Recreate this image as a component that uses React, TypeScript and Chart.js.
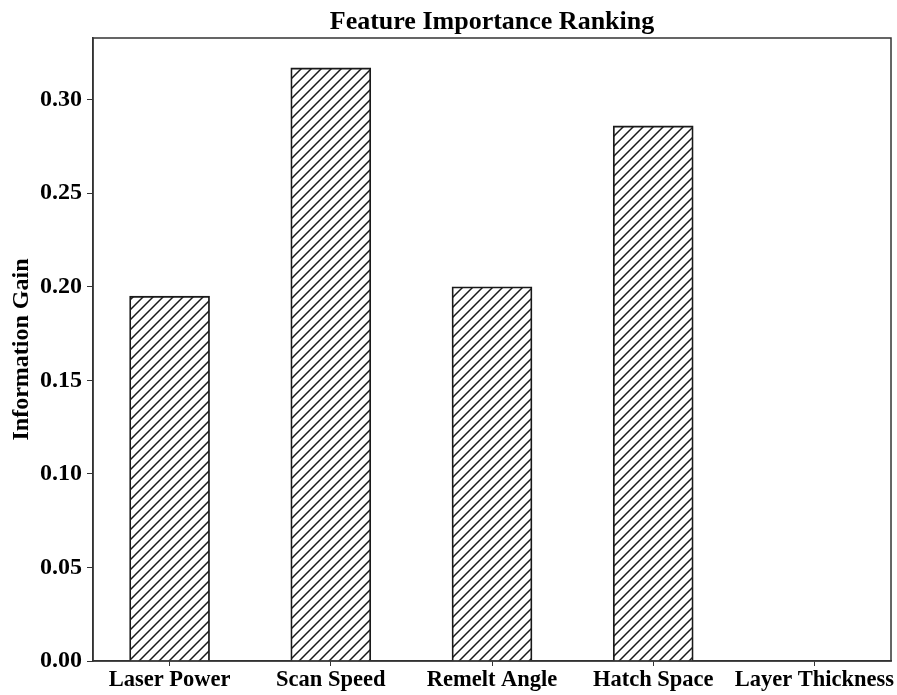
import React, { useEffect, useRef } from "react";
import { Chart, registerables } from "chart.js";

Chart.register(...registerables);

const categories = ["Laser Power", "Scan Speed", "Remelt Angle", "Hatch Space", "Layer Thickness"];
const gains = [0.195, 0.317, 0.2, 0.286, 0.0];
const yTicks = [0, 0.05, 0.1, 0.15, 0.2, 0.25, 0.3];
const titleText = "Feature Importance Ranking";
const yTitle = "Information Gain";

const FONT = "'Liberation Serif', 'Times New Roman', serif";

function makeHatch(): CanvasPattern | string {
  const c = document.createElement("canvas");
  const s = 10;
  c.width = s;
  c.height = s;
  const ctx = c.getContext("2d");
  if (!ctx) return "#fff";
  ctx.fillStyle = "#fff";
  ctx.fillRect(0, 0, s, s);
  ctx.strokeStyle = "#1a1a1a";
  ctx.lineWidth = 1.5;
  ctx.beginPath();
  ctx.moveTo(0, s);
  ctx.lineTo(s, 0);
  ctx.moveTo(-s / 2, s / 2);
  ctx.lineTo(s / 2, -s / 2);
  ctx.moveTo(s / 2, s * 1.5);
  ctx.lineTo(s * 1.5, s / 2);
  ctx.stroke();
  const p = ctx.createPattern(c, "repeat");
  return p || "#fff";
}

export default function App() {
  const ref = useRef<HTMLCanvasElement>(null);
  useEffect(() => {
    if (!ref.current) return;
    const hatch = makeHatch();
    const framePlugin = {
      id: "frame",
      afterDraw(chart: any) {
        const { ctx, chartArea } = chart;
        ctx.save();
        ctx.strokeStyle = "#333";
        ctx.lineWidth = 1.5;
        ctx.strokeRect(chartArea.left, chartArea.top, chartArea.right - chartArea.left, chartArea.bottom - chartArea.top);
        ctx.fillStyle = "#000";
        ctx.font = `bold 26px ${FONT}`;
        ctx.textAlign = "center";
        ctx.textBaseline = "middle";
        ctx.fillText(titleText, (chartArea.left + chartArea.right) / 2, 22);
        ctx.font = `bold 24px ${FONT}`;
        ctx.translate(22, (chartArea.top + chartArea.bottom) / 2);
        ctx.rotate(-Math.PI / 2);
        ctx.fillText(yTitle, 0, 0);
        ctx.restore();
      },
    };
    const chart = new Chart(ref.current, {
      type: "bar",
      data: {
        datasets: [
          {
            data: gains.map((v, i) => ({ x: i, y: v })),
            backgroundColor: hatch as any,
            borderColor: "#1a1a1a",
            borderWidth: 1.8,
            barThickness: 80,
          },
        ],
      },
      options: {
        animation: false,
        responsive: false,
        layout: { padding: { top: 38, right: 6, left: 0, bottom: 0 } },
        plugins: { legend: { display: false }, tooltip: { enabled: false } },
        scales: {
          x: {
            type: "linear",
            offset: false,
            min: -0.475,
            max: 4.475,
            afterBuildTicks: (scale: any) => {
              scale.ticks = categories.map((_, i) => ({ value: i }));
            },
            afterFit: (scale: any) => {
              scale.height = 34;
            },
            ticks: {
              autoSkip: false,
              maxRotation: 0,
              color: "#000",
              padding: 1,
              font: { family: FONT, size: 22.5, weight: "bold" },
              callback: (v: any) => categories[Math.round(Number(v))] ?? "",
            },
            grid: { offset: false, drawOnChartArea: false, tickLength: 5, color: "#333", lineWidth: 1 },
            border: { color: "#333", width: 1.5 },
          },
          y: {
            min: 0,
            max: 0.333,
            afterBuildTicks: (scale: any) => {
              scale.ticks = yTicks.map((v) => ({ value: v }));
            },
            afterFit: (scale: any) => {
              scale.width = 93;
            },
            ticks: {
              color: "#000",
              padding: 5,
              font: { family: FONT, size: 24, weight: "bold" },
              callback: (v: any) => Number(v).toFixed(2),
            },
            grid: { drawOnChartArea: false, tickLength: 6, color: "#333", lineWidth: 1 },
            border: { color: "#333", width: 1.5 },
          },
        },
      },
      plugins: [framePlugin],
    } as any);
    return () => chart.destroy();
  }, []);
  return (
    <div style={{ position: "fixed", left: 0, top: 0, width: 897, height: 695, background: "#fff" }}>
      <canvas ref={ref} width={897} height={695} style={{ width: 897, height: 695 }} />
    </div>
  );
}
